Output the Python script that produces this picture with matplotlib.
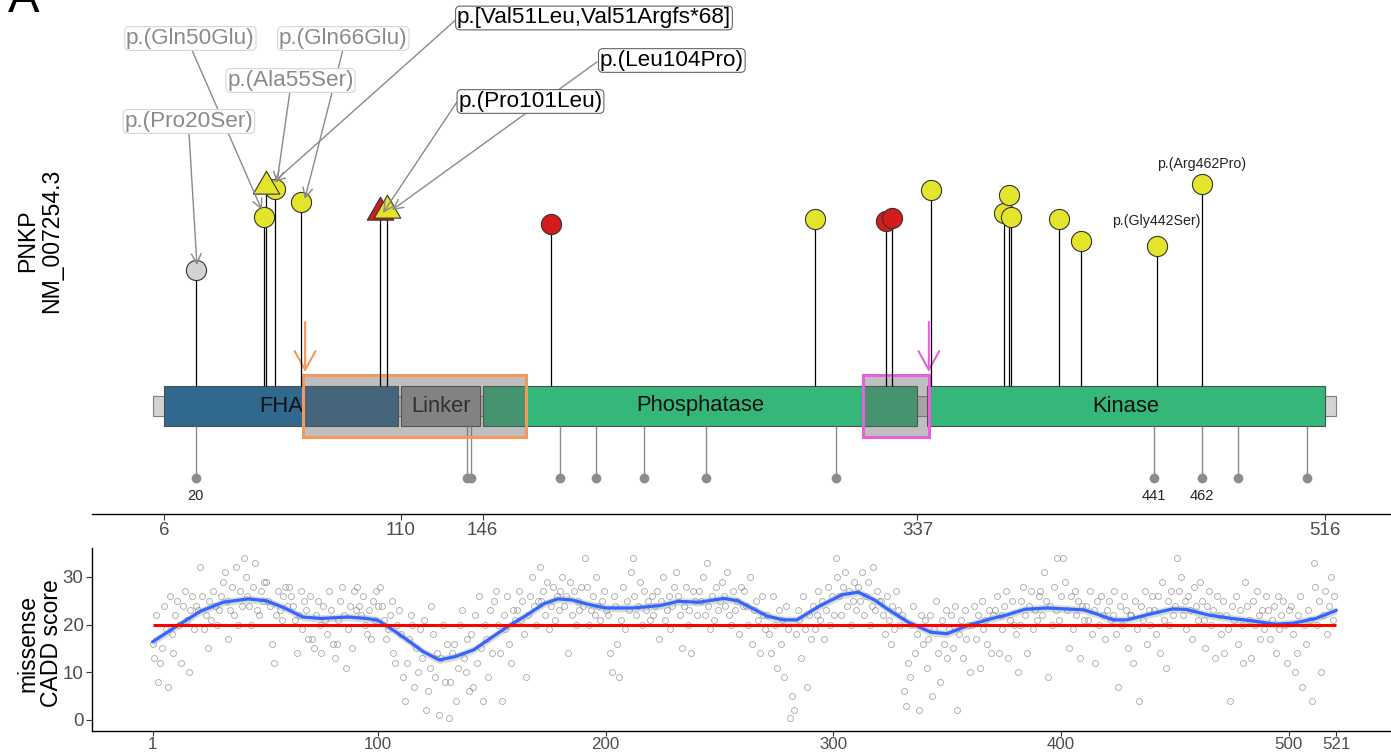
import matplotlib
matplotlib.use("Agg")
import matplotlib.pyplot as plt
from matplotlib.patches import Rectangle

plt.rcParams['font.family'] = ['Liberation Sans', 'DejaVu Sans']

# ---------------- protein / lollipop data ----------------
protein_start, protein_end = 1, 521
top_ticks = [6, 110, 146, 337, 516]

domain_names = ["FHA", "Linker", "Phosphatase", "Kinase"]
domain_start = [6, 110, 146, 341]
domain_end = [109, 145, 337, 516]
domain_colors = ["#31688e", "#999999", "#35b779", "#35b779"]

# variants above the protein (height in panel units)
var_pos = [20, 50, 51, 55, 66, 101, 104, 176, 292, 323, 326, 343, 375, 377, 378, 399, 409, 442, 462]
var_height = [244, 297, 328, 325, 312, 302, 304, 290, 295, 293, 296, 324, 301, 319, 297, 295, 273, 268, 330]
var_shape = ["o", "o", "^", "o", "o", "^", "^", "o", "o", "o", "o", "o", "o", "o", "o", "o", "o", "o", "o"]
var_group = ["grey", "yellow", "yellow", "yellow", "yellow", "red", "yellow", "red", "yellow", "red",
             "red", "yellow", "yellow", "yellow", "yellow", "yellow", "yellow", "yellow", "yellow"]

# repelled labels
label_text = ["p.(Pro20Ser)", "p.(Gln50Glu)", "p.(Ala55Ser)", "p.(Gln66Glu)",
              "p.[Val51Leu,Val51Argfs*68]", "p.(Pro101Leu)", "p.(Leu104Pro)"]
label_kind = ["grey", "grey", "grey", "grey", "black", "black", "black"]

# small plain labels
small_label_text = ["p.(Gly442Ser)", "p.(Arg462Pro)"]
small_label_pos = [442, 462]

# variants below the protein
low_pos = [20, 139, 141, 180, 196, 217, 244, 301, 441, 462, 478, 508]
low_label_pos = [20, 441, 462]

# highlighted regions
hl_start = [67, 313]
hl_end = [165, 342]
hl_arrow = [68, 342]

# ---------------- CADD panel data ----------------
bottom_ticks = [1, 100, 200, 300, 400, 500, 521]
cadd_yticks = [0, 10, 20, 30]
cadd_threshold = 20

cadd_bin_start = [1, 11, 21, 31, 41, 51, 61, 71, 81, 91, 101, 111, 121, 131, 141, 151, 161, 171,
                  181, 191, 201, 211, 221, 231, 241, 251, 261, 271, 281, 291, 301, 311, 321, 331,
                  341, 351, 361, 371, 381, 391, 401, 411, 421, 431, 441, 451, 461, 471, 481, 491,
                  501, 511]
cadd_bins = [
    [16, 13, 22, 8, 12, 15, 24, 19, 7, 26, 18, 14],
    [22, 25, 20, 12, 24, 27, 21, 10, 23, 26, 19, 24],
    [23, 32, 26, 19, 22, 15, 25, 21, 27, 24, 20, 23],
    [26, 29, 31, 25, 17, 23, 28, 22, 32, 20, 27, 24],
    [34, 30, 26, 24, 20, 28, 33, 23, 22, 27, 25, 29],
    [29, 25, 24, 16, 12, 22, 27, 23, 21, 26, 28, 24],
    [28, 26, 24, 21, 14, 22, 27, 19, 25, 23, 17, 26],
    [17, 15, 22, 25, 20, 14, 24, 21, 18, 27, 23, 16],
    [13, 16, 21, 25, 28, 22, 11, 19, 24, 15, 27, 23],
    [28, 24, 22, 26, 20, 18, 23, 17, 25, 21, 27, 24],
    [28, 24, 21, 17, 19, 22, 25, 14, 12, 20, 23, 18],
    [9, 4, 12, 17, 22, 20, 7, 15, 10, 19, 13, 21],
    [2, 6, 11, 24, 18, 9, 14, 1, 13, 20, 8, 16],
    [0.5, 8, 14, 16, 4, 11, 20, 23, 13, 10, 17, 6],
    [18, 7, 22, 12, 26, 15, 4, 20, 17, 9, 23, 14],
    [25, 27, 20, 14, 4, 22, 19, 26, 16, 12, 23, 21],
    [23, 27, 21, 25, 18, 9, 22, 26, 30, 24, 20, 25],
    [32, 25, 27, 22, 29, 19, 24, 28, 21, 26, 23, 27],
    [30, 24, 26, 14, 29, 22, 27, 20, 25, 23, 28, 24],
    [34, 28, 20, 23, 26, 22, 30, 24, 21, 25, 27, 23],
    [22, 14, 10, 26, 24, 16, 9, 21, 28, 19, 25, 23],
    [31, 34, 26, 22, 24, 29, 20, 27, 23, 25, 21, 26],
    [22, 24, 27, 17, 25, 30, 21, 23, 26, 19, 24, 28],
    [31, 26, 22, 15, 24, 28, 20, 23, 14, 27, 25, 22],
    [27, 25, 30, 22, 33, 24, 19, 26, 21, 28, 23, 25],
    [29, 26, 24, 31, 22, 20, 27, 23, 25, 18, 28, 24],
    [27, 24, 20, 30, 16, 23, 25, 21, 14, 26, 22, 19],
    [22, 18, 14, 26, 20, 11, 23, 16, 21, 9, 24, 19],
    [0.5, 5, 2, 18, 23, 21, 13, 26, 19, 7, 22, 17],
    [24, 19, 22, 27, 21, 25, 17, 23, 28, 20, 26, 22],
    [34, 30, 26, 22, 28, 31, 24, 27, 20, 25, 29, 23],
    [28, 25, 31, 22, 26, 29, 20, 24, 32, 23, 27, 25],
    [25, 22, 18, 26, 21, 16, 24, 19, 27, 23, 20, 22],
    [6, 3, 12, 9, 20, 24, 14, 18, 2, 22, 16, 21],
    [11, 17, 22, 5, 19, 25, 14, 8, 21, 16, 23, 13],
    [19, 22, 15, 24, 2, 18, 21, 13, 23, 17, 20, 10],
    [20, 24, 17, 22, 11, 25, 19, 21, 16, 23, 14, 22],
    [23, 26, 14, 22, 19, 24, 27, 13, 21, 25, 20, 18],
    [10, 20, 25, 28, 22, 14, 24, 27, 19, 23, 21, 26],
    [27, 22, 31, 25, 9, 24, 20, 28, 23, 34, 21, 26],
    [34, 29, 23, 15, 26, 19, 27, 22, 25, 13, 24, 21],
    [24, 21, 27, 18, 23, 12, 25, 20, 26, 22, 17, 23],
    [25, 21, 22, 27, 18, 7, 24, 20, 26, 23, 15, 22],
    [22, 12, 25, 19, 4, 24, 21, 27, 16, 23, 20, 26],
    [23, 18, 26, 14, 29, 21, 11, 25, 20, 27, 22, 24],
    [34, 27, 30, 22, 25, 19, 26, 23, 17, 28, 24, 21],
    [29, 25, 21, 15, 24, 27, 20, 23, 13, 26, 22, 18],
    [25, 14, 22, 19, 4, 24, 21, 26, 16, 23, 20, 12],
    [29, 24, 21, 13, 25, 20, 27, 22, 17, 23, 19, 26],
    [23, 17, 21, 24, 14, 26, 19, 22, 25, 20, 12, 23],
    [24, 18, 10, 14, 22, 26, 7, 20, 16, 23, 21, 4],
    [33, 28, 20, 25, 10, 22, 27, 18, 24, 30, 21, 26],
]

loess_pos = [1, 12, 22, 32, 43, 51, 59, 67, 75, 87, 95, 100, 106, 114, 120, 127, 134, 142, 149,
             157, 165, 173, 179, 185, 193, 200, 212, 224, 232, 241, 252, 258, 271, 278, 284, 294,
             304, 311, 318, 325, 333, 343, 350, 359, 369, 376, 384, 394, 410, 416, 423, 429, 439,
             449, 455, 465, 475, 484, 494, 502, 512, 521]
loess_val = [16.4, 19.8, 22.8, 24.7, 25.4, 25.0, 23.5, 21.6, 21.3, 21.6, 21.3, 20.9, 19.1, 16.4,
             14.3, 12.6, 13.3, 14.7, 17.0, 19.6, 21.9, 24.4, 25.4, 25.2, 24.2, 23.5, 23.5, 24.0,
             24.9, 24.7, 25.5, 25.0, 21.8, 21.0, 21.0, 23.9, 26.3, 26.8, 25.2, 22.9, 20.5, 18.4,
             18.1, 19.8, 21.2, 22.0, 23.2, 23.5, 23.1, 22.2, 21.0, 21.0, 22.2, 23.3, 23.2, 22.0,
             21.3, 20.8, 20.1, 20.3, 21.3, 23.0]

# ---------------- layout / style (panel units) ----------------
W, H = 1391, 753
XLIM = (-25.6, 545.0)
BAR_LO, BAR_HI = 88, 128
BB_LO, BB_HI = 98, 118
HL_LO, HL_HI = 77, 139
LOW_HEAD = 36
LOW_LABEL_Y = 18
ARROW_TOP, ARROW_TIP = 192, 142

label_center = [(17.0, 392.5), (17.6, 475.5), (61.6, 433.5), (84.8, 475.5),
                (194.9, 496.0), (167.0, 412.5), (229.1, 453.5)]
label_seg_start = [(17.0, 381), (18.3, 464), (61.3, 422), (84.6, 464),
                   (135.1, 496), (134.7, 412), (196.2, 452)]
label_seg_end = [(20.5, 249), (49.0, 304), (55.6, 331), (67.9, 315),
                 (54.3, 332), (102.2, 301), (106.2, 304)]
small_label_y = [293, 350]

group_color = {"grey": "#d3d3d3", "yellow": "#e4e42a", "red": "#d41c1c"}
hl_colors = ["#f4995a", "#e860dc"]
tri = [(-1, -0.577), (1, -0.577), (0, 1.155), (-1, -0.577)]

fig = plt.figure(figsize=(W / 100, H / 100), dpi=100)

# ================= top panel =================
ax = fig.add_axes([92 / W, 1 - 514 / H, 1299 / W, 514 / H])
ax.set_xlim(*XLIM)
ax.set_ylim(0, 514)
for s in ["top", "right", "left"]:
    ax.spines[s].set_visible(False)
ax.spines["bottom"].set_linewidth(1.0)
ax.set_yticks([])
ax.set_xticks(top_ticks)
ax.set_xticklabels([str(t) for t in top_ticks])
ax.tick_params(axis="x", length=4, width=0.8, color="#333333", labelcolor="#4d4d4d",
               labelsize=13.5, pad=2)

# backbone
ax.add_patch(Rectangle((protein_start, BB_LO), protein_end - protein_start, BB_HI - BB_LO,
                       fc="#d3d3d3", ec="#7f7f7f", lw=0.8, zorder=1))
# domains
for name, s, e, c in zip(domain_names, domain_start, domain_end, domain_colors):
    ax.add_patch(Rectangle((s, BAR_LO), e - s, BAR_HI - BAR_LO, fc=c, ec="#4d4d4d", lw=0.8, zorder=2))
    ax.text((s + e) / 2, (BAR_LO + BAR_HI) / 2, name, ha="center", va="center",
            fontsize=15.8, color="#111111", zorder=3)

# highlight boxes and arrows
for s, e, a, c in zip(hl_start, hl_end, hl_arrow, hl_colors):
    ax.add_patch(Rectangle((s, HL_LO), e - s, HL_HI - HL_LO, fc=(0.38, 0.38, 0.38, 0.4),
                           ec=c, lw=2.2, zorder=4))
    ax.annotate("", xy=(a, ARROW_TIP), xytext=(a, ARROW_TOP),
                arrowprops=dict(arrowstyle="->,head_length=0.45,head_width=0.25", color=c,
                                lw=1.5, mutation_scale=30, shrinkA=0, shrinkB=0), zorder=5)

# stems above
ax.vlines(var_pos, BAR_HI, var_height, color="black", lw=0.9, zorder=5)
# heads above
for p, h, sh, g in zip(var_pos, var_height, var_shape, var_group):
    if sh == "o":
        ax.plot([p], [h], marker="o", ms=14.5, mfc=group_color[g], mec="#333333", mew=0.8,
                ls="none", zorder=6)
for p, h, sh, g in zip(var_pos, var_height, var_shape, var_group):
    if sh == "^":
        ax.plot([p], [h], marker=tri, ms=22, mfc=group_color[g], mec="#333333", mew=0.8,
                ls="none", zorder=7)

# stems/heads below
ax.vlines(low_pos, LOW_HEAD, BAR_LO, color="#8c8c8c", lw=1.0, zorder=2)
ax.plot(low_pos, [LOW_HEAD] * len(low_pos), "o", color="#8c8c8c", ms=7, mec="none", zorder=3)
for p in low_label_pos:
    ax.text(p, LOW_LABEL_Y, str(p), ha="center", va="center", fontsize=10.5, color="#222222")

# small labels
for t, p, y in zip(small_label_text, small_label_pos, small_label_y):
    ax.text(p, y, t, ha="center", va="center", fontsize=10.2, color="#222222", zorder=8)

# repelled labels with segments
for t, k, c, st, en in zip(label_text, label_kind, label_center, label_seg_start, label_seg_end):
    ax.annotate("", xy=en, xytext=st,
                arrowprops=dict(arrowstyle="->,head_length=0.5,head_width=0.25", color="#8a8a8a",
                                lw=1.0, mutation_scale=14, shrinkA=0, shrinkB=0), zorder=8)
    if k == "grey":
        tc, ec = "#8a8a8a", "#d6d6d6"
    else:
        tc, ec = "#000000", "#666666"
    ax.text(c[0], c[1], t, ha="center", va="center", fontsize=16.2, color=tc, zorder=9,
            bbox=dict(boxstyle="round,pad=0.06,rounding_size=0.2", fc="white", ec=ec, lw=0.8))

# ================= bottom panel =================
bx = fig.add_axes([92 / W, 22 / H, 1299 / W, 183 / H])
bx.set_xlim(*XLIM)
bx.set_ylim(-2.31, 36.08)
for s in ["top", "right"]:
    bx.spines[s].set_visible(False)
bx.spines["bottom"].set_linewidth(1.0)
bx.spines["left"].set_linewidth(1.0)
bx.set_xticks(bottom_ticks)
bx.set_yticks(cadd_yticks)
bx.tick_params(axis="y", length=4, width=0.8, color="#333333", labelcolor="#4d4d4d",
               labelsize=13.5, pad=2)
bx.tick_params(axis="x", length=3.5, width=0.8, color="#333333", labelcolor="#4d4d4d",
               labelsize=12.2, pad=1)

for start, vals in zip(cadd_bin_start, cadd_bins):
    xs = [start + j * 10 / len(vals) for j in range(len(vals))]
    bx.plot(xs, vals, "o", ms=4.3, mfc="none", mec=(0.4, 0.4, 0.4, 0.5), mew=0.7, zorder=1)

bx.fill_between(loess_pos, [v - 0.8 for v in loess_val], [v + 0.8 for v in loess_val],
                color="#999999", alpha=0.35, lw=0, zorder=2)
bx.plot(loess_pos, loess_val, color="#3366ff", lw=2.3, zorder=3, solid_capstyle="round")
bx.hlines(cadd_threshold, protein_start, protein_end, color="#ff0000", lw=2.2, zorder=4)

# axis titles
fig.text(40 / W, 1 - 241 / H, "PNKP\nNM_007254.3", rotation=90, ha="center", va="center",
         fontsize=16.6, linespacing=1.05)
fig.text(40 / W, 1 - 643 / H, "missense\nCADD score", rotation=90, ha="center", va="center",
         fontsize=16.6, linespacing=1.05)
fig.text(8 / W, 1 - 12 / H, "A", ha="left", va="baseline", fontsize=34)

fig.savefig("out.png", dpi=100)
